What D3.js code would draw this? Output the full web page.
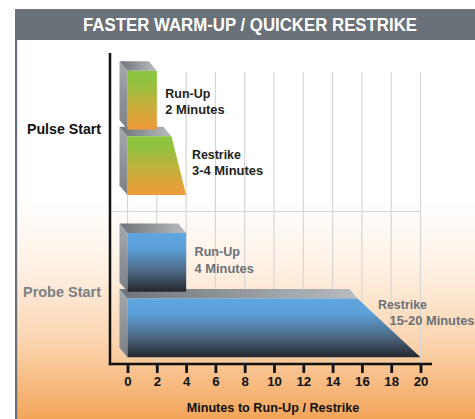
<!DOCTYPE html>
<html><head><meta charset="utf-8">
<script src="https://cdn.jsdelivr.net/npm/d3@7"></script>
<style>
html,body{margin:0;padding:0;background:#fff;}
svg{display:block;font-family:"Liberation Sans",Arial,sans-serif;}
</style></head>
<body>
<svg id="chart" width="475" height="419"></svg>
<script>
// ---- data ----
const chartTitle = "FASTER WARM-UP / QUICKER RESTRIKE";
const categories = ["Pulse Start", "Probe Start"];
const phases = ["Run-Up", "Restrike"];
const runUpMinutes = [2, 4];
const restrikeLow = [3, 15.7];
const restrikeHigh = [4, 20];
const runUpLabels = [["Run-Up", "2 Minutes"], ["Run-Up", "4 Minutes"]];
const restrikeLabels = [["Restrike", "3-4 Minutes"], ["Restrike", "15-20 Minutes"]];
const xTicks = [0, 2, 4, 6, 8, 10, 12, 14, 16, 18, 20];
const xTitle = "Minutes to Run-Up / Restrike";

// ---- layout ----
const W = 475, H = 419;
const svg = d3.select("#chart");
const defs = svg.append("defs");

const x = d3.scaleLinear().domain([0, 20]).range([127.5, 420.5]);
const y0 = d3.scaleBand().domain(categories).range([70.7, 357.3]).paddingInner(0.234).paddingOuter(0);
const y1 = d3.scaleBand().domain(phases).range([0, y0.bandwidth()]).paddingInner(0.1);

// gradients
function lg(id, x1, y1_, x2, y2, stops) {
  const g = defs.append("linearGradient").attr("id", id)
    .attr("x1", x1).attr("y1", y1_).attr("x2", x2).attr("y2", y2);
  stops.forEach(s => g.append("stop").attr("offset", s[0]).attr("stop-color", s[1]));
}
lg("bg", 0, 0, 0, 1, [[0, "#ffffff"], [0.42, "#ffffff"], [0.6, "#fef1e4"], [0.8, "#fbd4ae"], [1, "#f3a459"]]);
lg("pulseFront", 0, 0, 0, 1, [[0, "#8cc640"], [0.2, "#92c23f"], [0.6, "#c8ae3c"], [1, "#f29a3b"]]);
lg("probeFront", 0, 0, 0, 1, [[0, "#5fa5de"], [0.25, "#5ca1da"], [0.65, "#4c6984"], [1, "#24262b"]]);
lg("sideFace", 0, 0, 0, 1, [[0, "#a4a9ad"], [0.5, "#8f949a"], [1, "#7c8186"]]);
lg("topFace", 0, 0, 1, 0, [[0, "#6e747a"], [1, "#b8bcc0"]]);

// background & frame
svg.append("rect").attr("x", 17).attr("y", 40).attr("width", W - 17).attr("height", H - 40).attr("fill", "url(#bg)");
svg.append("rect").attr("x", 15).attr("y", 9).attr("width", W - 15).attr("height", 31).attr("fill", "#6a7178");
svg.append("rect").attr("x", 15).attr("y", 9).attr("width", 2.2).attr("height", H - 9).attr("fill", "#6a7178");
svg.append("text").attr("x", 250).attr("y", 31).attr("text-anchor", "middle")
  .attr("fill", "#ffffff").attr("font-size", 17.5).attr("font-weight", "bold")
  .attr("textLength", 334).attr("lengthAdjust", "spacingAndGlyphs").text(chartTitle);

// grid
const axisY = 364, axisX = 110;
const grid = svg.append("g");
grid.selectAll("line.v").data(xTicks).join("line").attr("class", "v")
  .attr("x1", d => x(d)).attr("x2", d => x(d)).attr("y1", 72).attr("y2", axisY)
  .attr("stroke", "#d6d6d6").attr("stroke-width", 1.2);
grid.append("line").attr("x1", 112).attr("x2", x(20)).attr("y1", 211.5).attr("y2", 211.5)
  .attr("stroke", "#d6d6d6").attr("stroke-width", 1.2);

// bars
const DX = -8, DY = -9.5;
const bars = svg.append("g");
const line = d3.line();
function drawBar(front, fill) {
  const [tl, tr, br, bl] = front;
  const side = [[tl[0] + DX, tl[1] + DY], tl, bl, [bl[0] + DX, bl[1] + DY]];
  const top = [[tl[0] + DX, tl[1] + DY], [tr[0] + DX, tr[1] + DY], tr, tl];
  bars.append("path").attr("d", line(side) + "Z").attr("fill", "url(#sideFace)");
  bars.append("path").attr("d", line(top) + "Z").attr("fill", "url(#topFace)");
  bars.append("path").attr("d", line(front) + "Z").attr("fill", fill);
}
categories.forEach((c, i) => {
  const fill = i === 0 ? "url(#pulseFront)" : "url(#probeFront)";
  const rt = y0(c) + y1("Restrike"), rb = rt + y1.bandwidth();
  drawBar([[x(0), rt], [x(restrikeLow[i]), rt], [x(restrikeHigh[i]), rb], [x(0), rb]], fill);
  const ut = y0(c) + y1("Run-Up"), ub = ut + y1.bandwidth();
  drawBar([[x(0), ut], [x(runUpMinutes[i]), ut], [x(runUpMinutes[i]), ub], [x(0), ub]], fill);
});

// bar labels (widths matched to the reference lettering)
const labelColors = ["#231f20", "#6a7077"];
const runUpOffset = [22.3, 18.7];
const restrikeOffset = [18.3, 6.3];
const restrikeIndent = [0, 11.5];
const runUpWidths = [[45, 59.3], [45.3, 59.3]];
const restrikeWidths = [[49, 71.3], [49, 85]];
const labels = svg.append("g").attr("font-weight", "bold").attr("font-size", 12.8);
categories.forEach((c, i) => {
  const ut = y0(c) + y1("Run-Up");
  runUpLabels[i].forEach((t, k) => {
    labels.append("text").attr("x", x(runUpMinutes[i]) + 8.5).attr("y", ut + runUpOffset[i] + k * 16.5)
      .attr("dy", "0.36em").attr("fill", labelColors[i])
      .attr("textLength", runUpWidths[i][k]).attr("lengthAdjust", "spacingAndGlyphs").text(t);
  });
  const rt = y0(c) + y1("Restrike");
  restrikeLabels[i].forEach((t, k) => {
    labels.append("text").attr("x", x(restrikeLow[i]) + 20.5 + (k ? restrikeIndent[i] : 0))
      .attr("y", rt + restrikeOffset[i] + k * 16)
      .attr("dy", "0.36em").attr("fill", labelColors[i])
      .attr("textLength", restrikeWidths[i][k]).attr("lengthAdjust", "spacingAndGlyphs").text(t);
  });
});

// category labels
const catColors = ["#111111", "#7b8086"];
const catY = [129, 291.5];
const catWidths = [74, 78];
categories.forEach((c, i) => {
  svg.append("text").attr("x", 101).attr("y", catY[i]).attr("dy", "0.36em")
    .attr("text-anchor", "end").attr("font-weight", "bold").attr("font-size", 14)
    .attr("textLength", catWidths[i]).attr("lengthAdjust", "spacingAndGlyphs")
    .attr("fill", catColors[i]).text(c);
});

// axes
svg.append("line").attr("x1", axisX).attr("x2", axisX).attr("y1", 53).attr("y2", axisY + 1.2)
  .attr("stroke", "#111").attr("stroke-width", 2.5);
svg.append("line").attr("x1", axisX - 1.2).attr("x2", 432).attr("y1", axisY).attr("y2", axisY)
  .attr("stroke", "#111").attr("stroke-width", 2.5);

const xAxis = d3.axisBottom(x).tickValues(xTicks).tickSize(9).tickPadding(4).tickFormat(d3.format("d"));
const gx = svg.append("g").attr("transform", `translate(0,${axisY})`).call(xAxis);
gx.select(".domain").remove();
gx.selectAll(".tick line").attr("stroke", "#111").attr("stroke-width", 2.8);
gx.selectAll(".tick text").attr("fill", "#111").attr("font-size", 13.2).attr("font-weight", "bold")
  .attr("font-family", "'Liberation Sans',Arial,sans-serif");

svg.append("text").attr("x", 273).attr("y", 407).attr("dy", "0.36em").attr("text-anchor", "middle")
  .attr("font-weight", "bold").attr("font-size", 13.5).attr("fill", "#111")
  .attr("textLength", 172.7).attr("lengthAdjust", "spacingAndGlyphs").text(xTitle);
</script>
</body></html>
